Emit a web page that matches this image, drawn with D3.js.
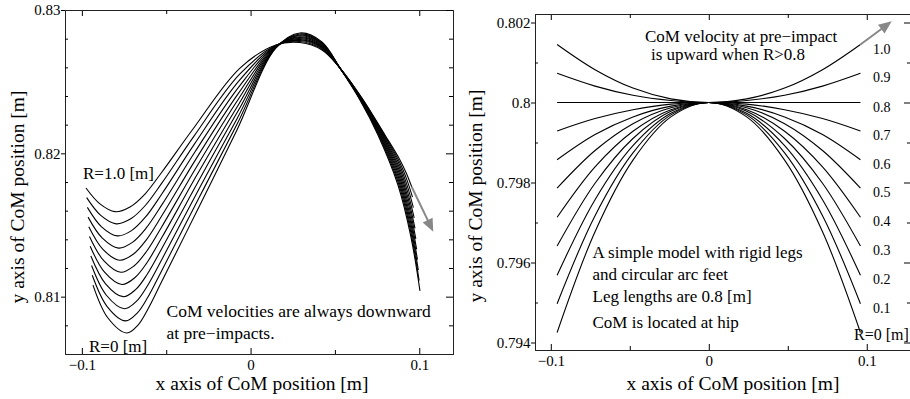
<!DOCTYPE html>
<html lang="en">
<head>
<meta charset="utf-8">
<script src="https://d3js.org/d3.v7.min.js"></script>
<style>
  * { margin:0; padding:0 }
  body { background:#fff; width:910px; height:399px; overflow:hidden }
  svg text { font-family:"Liberation Serif","Times New Roman",serif; fill:#000 }
</style>
</head>
<body>
<svg id="chart" width="910" height="399"></svg>
<script>
// ---- left panel: CoM paths for R = 0 ... 1.0 (x, y in metres) ----
const leftR = [0, 0.1, 0.2, 0.3, 0.4, 0.5, 0.6, 0.7, 0.8, 0.9, 1.0];
const leftX = [
  [-0.09342,-0.08453,-0.07344,-0.06675,-0.06082,-0.05252,-0.03000,-0.00806,0.01506,0.02928,0.04232,0.05299,0.06485,0.07552,0.08737,0.09508,0.10042],
  [-0.09384,-0.08500,-0.07413,-0.06722,-0.06100,-0.05252,-0.03041,-0.00788,0.01506,0.02928,0.04232,0.05299,0.06497,0.07594,0.08749,0.09481,0.09993],
  [-0.09425,-0.08548,-0.07483,-0.06770,-0.06118,-0.05252,-0.03083,-0.00770,0.01506,0.02928,0.04232,0.05299,0.06509,0.07635,0.08761,0.09455,0.09944],
  [-0.09467,-0.08595,-0.07552,-0.06817,-0.06135,-0.05252,-0.03124,-0.00753,0.01506,0.02928,0.04232,0.05299,0.06520,0.07677,0.08773,0.09428,0.09894],
  [-0.09508,-0.08643,-0.07622,-0.06865,-0.06153,-0.05252,-0.03166,-0.00735,0.01506,0.02928,0.04232,0.05299,0.06532,0.07718,0.08785,0.09401,0.09845],
  [-0.09550,-0.08690,-0.07691,-0.06912,-0.06171,-0.05252,-0.03207,-0.00717,0.01506,0.02928,0.04232,0.05299,0.06544,0.07760,0.08797,0.09375,0.09796],
  [-0.09591,-0.08737,-0.07760,-0.06959,-0.06189,-0.05252,-0.03248,-0.00699,0.01506,0.02928,0.04232,0.05299,0.06556,0.07801,0.08808,0.09348,0.09747],
  [-0.09633,-0.08785,-0.07830,-0.07007,-0.06207,-0.05252,-0.03290,-0.00681,0.01506,0.02928,0.04232,0.05299,0.06568,0.07843,0.08820,0.09321,0.09698],
  [-0.09674,-0.08832,-0.07899,-0.07054,-0.06224,-0.05252,-0.03331,-0.00664,0.01506,0.02928,0.04232,0.05299,0.06579,0.07884,0.08832,0.09294,0.09648],
  [-0.09716,-0.08880,-0.07969,-0.07102,-0.06242,-0.05252,-0.03373,-0.00646,0.01506,0.02928,0.04232,0.05299,0.06591,0.07926,0.08844,0.09268,0.09599],
  [-0.09757,-0.08927,-0.08038,-0.07149,-0.06260,-0.05252,-0.03414,-0.00628,0.01506,0.02928,0.04232,0.05299,0.06603,0.07967,0.08856,0.09241,0.09550]
];
const leftY = [
  [0.81081,0.80851,0.80747,0.80802,0.80914,0.81109,0.81640,0.82163,0.82735,0.82840,0.82777,0.82595,0.82372,0.82128,0.81779,0.81416,0.81040],
  [0.81149,0.80931,0.80831,0.80885,0.80994,0.81185,0.81693,0.82206,0.82737,0.82833,0.82771,0.82595,0.82374,0.82128,0.81797,0.81461,0.81112],
  [0.81217,0.81010,0.80916,0.80967,0.81075,0.81261,0.81746,0.82249,0.82739,0.82826,0.82766,0.82595,0.82375,0.82128,0.81814,0.81505,0.81185],
  [0.81284,0.81090,0.81000,0.81049,0.81155,0.81338,0.81799,0.82293,0.82741,0.82820,0.82760,0.82595,0.82376,0.82128,0.81831,0.81549,0.81258],
  [0.81352,0.81169,0.81085,0.81132,0.81235,0.81414,0.81852,0.82336,0.82743,0.82813,0.82755,0.82595,0.82378,0.82128,0.81849,0.81594,0.81331],
  [0.81420,0.81249,0.81170,0.81214,0.81315,0.81490,0.81905,0.82379,0.82745,0.82807,0.82749,0.82595,0.82379,0.82128,0.81866,0.81638,0.81403],
  [0.81488,0.81328,0.81254,0.81296,0.81395,0.81566,0.81958,0.82422,0.82748,0.82800,0.82743,0.82595,0.82381,0.82128,0.81884,0.81682,0.81476],
  [0.81555,0.81408,0.81339,0.81379,0.81476,0.81642,0.82011,0.82466,0.82750,0.82793,0.82738,0.82595,0.82382,0.82128,0.81901,0.81726,0.81549],
  [0.81623,0.81487,0.81424,0.81461,0.81556,0.81718,0.82064,0.82509,0.82752,0.82787,0.82732,0.82595,0.82383,0.82128,0.81919,0.81771,0.81622],
  [0.81691,0.81567,0.81508,0.81543,0.81636,0.81794,0.82117,0.82552,0.82754,0.82780,0.82727,0.82595,0.82385,0.82128,0.81936,0.81815,0.81694],
  [0.81758,0.81647,0.81593,0.81626,0.81716,0.81870,0.82170,0.82595,0.82756,0.82773,0.82721,0.82595,0.82386,0.82128,0.81954,0.81859,0.81767]
];
const leftArrowTip = [0.1083, 0.81453];

// ---- right panel: simple model, R = 0 ... 1.0 ----
const rightR = [0, 0.1, 0.2, 0.3, 0.4, 0.5, 0.6, 0.7, 0.8, 0.9, 1.0];
const rightLabels = ["R=0 [m]","0.1","0.2","0.3","0.4","0.5","0.6","0.7","0.8","0.9","1.0"];
const rightX = [-0.096,-0.072,-0.048,-0.024,0,0.024,0.048,0.072,0.096];
const rightY = [
  [0.79425,0.79677,0.79856,0.79964,0.8,0.79964,0.79856,0.79677,0.79425],
  [0.79497,0.79717,0.79874,0.79969,0.8,0.79969,0.79874,0.79717,0.79497],
  [0.79568,0.79757,0.79892,0.79973,0.8,0.79973,0.79892,0.79757,0.79568],
  [0.79641,0.79798,0.79910,0.79978,0.8,0.79978,0.79910,0.79798,0.79641],
  [0.79713,0.79839,0.79928,0.79982,0.8,0.79982,0.79928,0.79839,0.79713],
  [0.79786,0.79880,0.79947,0.79987,0.8,0.79987,0.79947,0.79880,0.79786],
  [0.79857,0.79920,0.79964,0.79991,0.8,0.79991,0.79964,0.79920,0.79857],
  [0.79929,0.79960,0.79982,0.79996,0.8,0.79996,0.79982,0.79960,0.79929],
  [0.8,0.8,0.8,0.8,0.8,0.8,0.8,0.8,0.8],
  [0.80073,0.80041,0.80018,0.80005,0.8,0.80005,0.80018,0.80041,0.80073],
  [0.80145,0.80082,0.80036,0.80009,0.8,0.80009,0.80036,0.80082,0.80145]
];
const rightArrowTip = [0.1158, 0.80203];

// ticks
const xMajor = [-0.1, 0, 0.1];
const xMinor = [-0.05, 0.05];
const leftYMajor = [0.81, 0.82, 0.83];
const leftYMinor = [0.808, 0.812, 0.814, 0.816, 0.818, 0.822, 0.824, 0.826, 0.828];
const rightYMajor = [0.794, 0.796, 0.798, 0.8, 0.802];
const rightYMinor = [0.795, 0.797, 0.799, 0.801];

const SANS = '"Liberation Sans", Arial, sans-serif';
const svg = d3.select('#chart');

const xL = d3.scaleLinear().domain([-0.11, 0.12]).range([65, 453]);
const yL = d3.scaleLinear().domain([0.806, 0.83]).range([354, 10]);
const xR = d3.scaleLinear().domain([-0.11, 0.128]).range([535, 911]);
// domain offset so that the flat R=0.8 line falls on a pixel centre
const yR = d3.scaleLinear().domain([0.7938125, 0.8022125]).range([350, 14]);

const fmt = d => d === 0 ? '0' : (d < 0 ? '\u2212' : '') + Math.abs(d);

function frame(x, y, yMajor, yMinor) {
  const [x0, x1] = x.range();
  const [y0, y1] = y.range();
  const g = svg.append('g');
  const put = (axis, tx, ty) => {
    const a = g.append('g').attr('transform', `translate(${tx},${ty})`).call(axis);
    a.attr('font-family', SANS).attr('font-size', 15);
    return a;
  };
  put(d3.axisBottom(x).tickValues(xMajor).tickSizeInner(-6).tickSizeOuter(0).tickPadding(5.5).tickFormat(fmt), 0, y0);
  put(d3.axisBottom(x).tickValues(xMinor).tickSizeInner(-4).tickSizeOuter(0).tickFormat(''), 0, y0);
  put(d3.axisTop(x).tickValues(xMajor).tickSizeInner(-6).tickSizeOuter(0).tickFormat(''), 0, y1);
  put(d3.axisTop(x).tickValues(xMinor).tickSizeInner(-4).tickSizeOuter(0).tickFormat(''), 0, y1);
  put(d3.axisLeft(y).tickValues(yMajor).tickSizeInner(4).tickSizeOuter(0).tickPadding(0.5).tickFormat(fmt), x0, 0);
  put(d3.axisLeft(y).tickValues(yMinor).tickSizeInner(-3).tickSizeOuter(0).tickFormat(''), x0, 0);
  put(d3.axisRight(y).tickValues(yMajor).tickSizeInner(-7).tickSizeOuter(0).tickFormat(''), x1, 0);
  put(d3.axisRight(y).tickValues(yMinor).tickSizeInner(-4).tickSizeOuter(0).tickFormat(''), x1, 0);
  g.selectAll('.domain').attr('stroke', '#222');
}

function arrow(x0, y0, x1, y1) {
  const dx = x1 - x0, dy = y1 - y0, len = Math.hypot(dx, dy);
  const ux = dx / len, uy = dy / len, hl = 13, hw = 5.5;
  const bx = x1 - ux * hl, by = y1 - uy * hl;
  const g = svg.append('g');
  g.append('line').attr('x1', x0).attr('y1', y0).attr('x2', bx + ux).attr('y2', by + uy)
    .attr('stroke', '#888').attr('stroke-width', 2);
  g.append('path')
    .attr('d', `M${x1},${y1}L${bx - uy * hw},${by + ux * hw}L${bx + uy * hw},${by - ux * hw}Z`)
    .attr('fill', '#888');
}

function text(str, x, y, size, anchor) {
  return svg.append('text').attr('x', x).attr('y', y).attr('font-size', size)
    .attr('text-anchor', anchor || 'start').text(str);
}

// ---------- left panel ----------
frame(xL, yL, leftYMajor, leftYMinor);
const lineL = d3.line().x(d => xL(d[0])).y(d => yL(d[1])).curve(d3.curveCatmullRom.alpha(0.5));
svg.append('g').selectAll('path')
  .data(leftR.map((r, i) => d3.zip(leftX[i], leftY[i])))
  .join('path')
  .attr('d', lineL).attr('fill', 'none').attr('stroke', '#000').attr('stroke-width', 1.1);

const lEnd = leftR.length - 1, lLast = leftX[lEnd].length - 1;
arrow(xL(leftX[lEnd][lLast]), yL(leftY[lEnd][lLast]), xL(leftArrowTip[0]), yL(leftArrowTip[1]));

text('R=1.0 [m]', 83, 178.5, 17);
text('R=0 [m]', 89, 352, 17);
text('CoM velocities are always downward', 166.5, 316.5, 17.5);
text('at pre\u2212impacts.', 166.5, 338.5, 17.5);
text('x axis of CoM position [m]', 262, 390, 19.5, 'middle');
svg.append('text').attr('transform', 'translate(24,197) rotate(-90)')
  .attr('font-size', 19.5).attr('text-anchor', 'middle').text('y axis of CoM position [m]');

// ---------- right panel ----------
frame(xR, yR, rightYMajor, rightYMinor);
const lineR = d3.line().x(d => xR(d[0])).y(d => yR(d[1])).curve(d3.curveCatmullRom.alpha(0.5));
svg.append('g').selectAll('path')
  .data(rightR.map((r, i) => rightX.map((x, j) => [x, rightY[i][j]])))
  .join('path')
  .attr('d', lineR).attr('fill', 'none').attr('stroke', '#000').attr('stroke-width', 1.1);

const last = rightX.length - 1;
svg.append('g').selectAll('text')
  .data(rightR)
  .join('text')
  .attr('x', (d, i) => i === 0 ? 854 : 873)
  .attr('y', (d, i) => yR(rightY[i][last]) + (i === 0 ? 7 : 9))
  .attr('font-size', (d, i) => i === 0 ? 16 : 14)
  .text((d, i) => rightLabels[i]);

const rEnd = rightR.length - 1;
arrow(xR(rightX[last]), yR(rightY[rEnd][last]), xR(rightArrowTip[0]), yR(rightArrowTip[1]));

text('CoM velocity at pre\u2212impact', 645, 41.5, 17);
text('is upward when R>0.8', 651, 59.5, 17);
text('A simple model with rigid legs', 592.5, 258, 17);
text('and circular arc feet', 592.5, 280, 17);
text('Leg lengths are 0.8 [m]', 592.5, 301.5, 17);
text('CoM is located at hip', 592.5, 328, 17);
text('x axis of CoM position [m]', 733, 390, 19.5, 'middle');
svg.append('text').attr('transform', 'translate(482,196) rotate(-90)')
  .attr('font-size', 19.5).attr('text-anchor', 'middle').text('y axis of CoM position [m]');
</script>
</body>
</html>
